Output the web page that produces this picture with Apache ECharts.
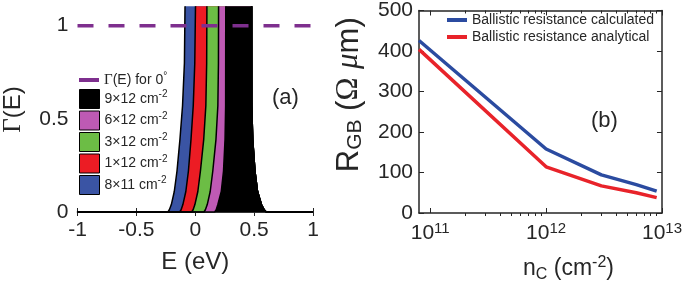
<!DOCTYPE html>
<html>
<head>
<meta charset="utf-8">
<script src="https://cdn.jsdelivr.net/npm/echarts@6/dist/echarts.min.js"></script>
<style>
  html, body { margin: 0; padding: 0; background: #fff; }
  #chart { width: 685px; height: 290px; }
</style>
</head>
<body>
<div id="chart"></div>
<script>
// (a) Γ(E) bands, points as [E (eV), Γ]
const band8x11 = [[-1, 0], [-0.232, 0], [-0.22, 0.012], [-0.203, 0.04], [-0.178, 0.11], [-0.155, 0.22], [-0.13, 0.39], [-0.108, 0.57], [-0.092, 0.8], [-0.087, 1.1], [-0.085, 1.3]]
const band1x12 = [[-1, 0], [-0.132, 0], [-0.12, 0.012], [-0.105, 0.04], [-0.08, 0.11], [-0.058, 0.22], [-0.036, 0.39], [-0.017, 0.57], [-0.004, 0.8], [0.002, 1.1], [0.004, 1.3]]
const band3x12 = [[-1, 0], [-0.03, 0], [-0.018, 0.012], [-0.003, 0.04], [0.022, 0.11], [0.044, 0.22], [0.072, 0.39], [0.09, 0.57], [0.097, 0.8], [0.099, 1.1], [0.1, 1.3]]
const band6x12 = [[-1, 0], [0.074, 0], [0.086, 0.012], [0.102, 0.04], [0.127, 0.11], [0.149, 0.22], [0.176, 0.39], [0.192, 0.57], [0.197, 0.8], [0.198, 1.1], [0.199, 1.3]]
const band9x12 = [[-1, 0], [0.165, 0], [0.178, 0.012], [0.192, 0.04], [0.221, 0.11], [0.24, 0.22], [0.253, 0.39], [0.258, 0.57], [0.259, 1.1], [0.26, 1.3]]
// shared falling side, hidden under the black band
const bandRight = [[0.478, 1.3], [0.479, 1.1], [0.48, 0.57], [0.488, 0.39], [0.507, 0.22], [0.529, 0.11], [0.562, 0.04], [0.585, 0.012], [0.603, 0], [1, 0]]
const gamma0 = [[-1, 1], [1, 1]]

const bandNames = ['8×11', '1×12', '3×12', '6×12', '9×12']
const bandColors = ['#3A54A4', '#EC1C24', '#6CBD45', '#BE5AB4', '#000000']
const bandData = [band8x11, band1x12, band3x12, band6x12, band9x12]

// (b) R_GB vs n_C
const nC = [8e10, 1e12, 3e12, 6e12, 9e12]
const rCalc = [426, 158, 94, 70, 54]
const rAnal = [404, 114, 67, 50, 38]

const eTicks = [-1, -0.5, 0, 0.5, 1]
const gTicks = [0, 0.25, 0.5, 0.75, 1]
const gLabels = [0, 0.5, 1]
const logMajor = [1e11, 1e12, 1e13]
const logMinor = [2e11, 3e11, 4e11, 5e11, 6e11, 7e11, 8e11, 9e11, 2e12, 3e12, 4e12, 5e12, 6e12, 7e12, 8e12, 9e12]

const FONT = 'Liberation Sans, Arial, Helvetica, sans-serif'
const SERIF = 'Liberation Serif, Times New Roman, serif'
const INK = '#262626'

const chart = echarts.init(document.getElementById('chart'), null, { renderer: 'canvas' })

const frameLine = { show: true, lineStyle: { color: INK, width: 1.5 } }
const tickIn = (len, vals) => ({ show: true, inside: true, length: len, lineStyle: { color: INK, width: 1 }, customValues: vals })

const bandSeries = bandData.map((d, i) => ({
  name: bandNames[i],
  type: 'line',
  xAxisIndex: 0,
  yAxisIndex: 0,
  data: d.concat(bandRight),
  symbol: 'none',
  lineStyle: { color: '#000', width: 1.5 },
  itemStyle: { color: bandColors[i] },
  areaStyle: { color: bandColors[i], opacity: 1 },
  animation: false,
  z: 2 + i
}))

chart.setOption({
  animation: false,
  textStyle: { fontFamily: FONT },
  title: [
    { text: '(a)', left: 272, top: 87, padding: 0, textStyle: { fontSize: 22, fontWeight: 'normal', color: INK, fontFamily: FONT } },
    { text: '(b)', left: 591, top: 110, padding: 0, textStyle: { fontSize: 22, fontWeight: 'normal', color: INK, fontFamily: FONT } }
  ],
  grid: [
    { left: 71, top: 7, width: 242, height: 205 },
    { left: 419, top: 8, width: 244, height: 205 }
  ],
  legend: [
    {
      data: [{ name: 'gamma0', icon: 'rect', itemStyle: { color: '#7E2F8E' } }],
      left: 79, top: 71, itemWidth: 20, itemHeight: 4, padding: 0,
      formatter: () => '{g|Γ}{t|(E) for 0}{s|°}',
      textStyle: {
        rich: {
          g: { fontFamily: SERIF, fontSize: 15, color: INK, lineHeight: 18 },
          t: { fontFamily: FONT, fontSize: 14, color: INK, lineHeight: 18 },
          s: { fontFamily: FONT, fontSize: 10, color: INK, lineHeight: 8, verticalAlign: 'top' }
        }
      }
    },
    {
      data: bandNames.slice().reverse().map((n, k) => ({
        name: n, icon: 'rect',
        itemStyle: { color: bandColors[4 - k], borderColor: '#000', borderWidth: 1 }
      })),
      orient: 'vertical', left: 79, top: 89, itemWidth: 20, itemHeight: 19, itemGap: 1.5, padding: 0,
      formatter: n => '{t|' + n + ' cm}{s|-2}',
      textStyle: {
        rich: {
          t: { fontFamily: FONT, fontSize: 14, color: INK, lineHeight: 19 },
          s: { fontFamily: FONT, fontSize: 10, color: INK, lineHeight: 9, verticalAlign: 'top' }
        }
      }
    },
    {
      data: ['Ballistic resistance calculated', 'Ballistic resistance analytical'],
      orient: 'vertical', left: 447, top: 12, itemWidth: 20, itemHeight: 4, itemGap: 1, padding: 0,
      icon: 'rect',
      textStyle: { fontFamily: FONT, fontSize: 14, color: INK, lineHeight: 16 }
    }
  ],
  xAxis: [
    {
      type: 'value', gridIndex: 0, min: -1, max: 1,
      axisLine: frameLine, axisTick: tickIn(4, eTicks), splitLine: { show: false },
      axisLabel: { color: INK, fontSize: 21, margin: 8, customValues: eTicks },
      name: 'E (eV)', nameLocation: 'middle', nameGap: 38,
      nameTextStyle: { color: INK, fontSize: 24, fontFamily: FONT }
    },
    {
      type: 'value', gridIndex: 0, min: -1, max: 1, position: 'top',
      axisLine: frameLine, axisTick: tickIn(4, eTicks), axisLabel: { show: false }, splitLine: { show: false }
    },
    {
      type: 'log', gridIndex: 1, min: 8e10, max: 1e13,
      axisLine: frameLine, axisTick: tickIn(5, logMajor), splitLine: { show: false }, minorTick: { show: false },
      axisLabel: {
        customValues: logMajor, margin: 8,
        formatter: v => '{b|10}{s|' + Math.round(Math.log10(v)) + '}',
        rich: {
          b: { fontSize: 21, color: INK, fontFamily: FONT, lineHeight: 24 },
          s: { fontSize: 15, color: INK, fontFamily: FONT, lineHeight: 12, verticalAlign: 'top' }
        }
      },
      name: '{t|n}{sub|C}{t| (cm}{sup|-2}{t|)}', nameLocation: 'middle', nameGap: 42,
      nameTextStyle: {
        padding: [0, 0, 0, 56],
        rich: {
          t: { fontSize: 23, color: INK, fontFamily: FONT, lineHeight: 28 },
          sub: { fontSize: 16, color: INK, fontFamily: FONT, lineHeight: 14, verticalAlign: 'bottom' },
          sup: { fontSize: 16, color: INK, fontFamily: FONT, lineHeight: 12, verticalAlign: 'top' }
        }
      }
    },
    {
      type: 'log', gridIndex: 1, min: 8e10, max: 1e13,
      axisLine: { show: false }, axisTick: tickIn(3, logMinor), axisLabel: { show: false }, splitLine: { show: false }
    },
    {
      type: 'log', gridIndex: 1, min: 8e10, max: 1e13, position: 'top',
      axisLine: frameLine, axisTick: tickIn(5, logMajor), axisLabel: { show: false }, splitLine: { show: false }
    },
    {
      type: 'log', gridIndex: 1, min: 8e10, max: 1e13, position: 'top',
      axisLine: { show: false }, axisTick: tickIn(3, logMinor), axisLabel: { show: false }, splitLine: { show: false }
    }
  ],
  yAxis: [
    {
      type: 'value', gridIndex: 0, min: 0, max: 1.1,
      axisLine: frameLine, axisTick: tickIn(4, gTicks), splitLine: { show: false },
      axisLabel: { color: INK, fontSize: 21, margin: 9, customValues: gLabels },
      name: '{g|Γ}{t|(E)}', nameLocation: 'middle', nameGap: 50,
      nameTextStyle: {
        rich: {
          g: { fontSize: 25, color: INK, fontFamily: SERIF, lineHeight: 28 },
          t: { fontSize: 24, color: INK, fontFamily: FONT, lineHeight: 28 }
        }
      }
    },
    {
      type: 'value', gridIndex: 0, min: 0, max: 1.1, position: 'right',
      axisLine: frameLine, axisTick: tickIn(4, gTicks), axisLabel: { show: false }, splitLine: { show: false }
    },
    {
      type: 'value', gridIndex: 1, min: 0, max: 500, interval: 100,
      axisLine: frameLine, axisTick: { show: true, inside: true, length: 5, lineStyle: { color: INK } }, splitLine: { show: false },
      axisLabel: { color: INK, fontSize: 21, margin: 6 },
      name: '{t|R}{sub|GB}{t| (}{g|Ω}{t| }{mu|μ}{t|m)}', nameLocation: 'middle', nameGap: 53,
      nameTextStyle: {
        padding: [0, 0, 0, 34],
        rich: {
          t: { fontSize: 31, color: INK, fontFamily: FONT, lineHeight: 34 },
          sub: { fontSize: 21, color: INK, fontFamily: FONT, lineHeight: 16, verticalAlign: 'bottom' },
          g: { fontSize: 31, color: INK, fontFamily: SERIF, lineHeight: 34 },
          mu: { fontSize: 31, color: INK, fontFamily: SERIF, fontStyle: 'italic', lineHeight: 34 }
        }
      }
    },
    {
      type: 'value', gridIndex: 1, min: 0, max: 500, interval: 100, position: 'right',
      axisLine: frameLine, axisTick: { show: true, inside: true, length: 5, lineStyle: { color: INK } },
      axisLabel: { show: false }, splitLine: { show: false }
    }
  ],
  series: bandSeries.concat([
    {
      name: 'gamma0', type: 'line', xAxisIndex: 0, yAxisIndex: 0, data: gamma0, symbol: 'none', z: 10,
      itemStyle: { color: '#7E2F8E' },
      lineStyle: { color: '#7E2F8E', width: 3.5, type: [16, 15] }
    },
    {
      name: 'Ballistic resistance calculated', type: 'line', xAxisIndex: 2, yAxisIndex: 2,
      data: nC.map((n, i) => [n, rCalc[i]]), symbol: 'none', color: '#2B4BA0',
      lineStyle: { width: 3.5 }
    },
    {
      name: 'Ballistic resistance analytical', type: 'line', xAxisIndex: 2, yAxisIndex: 2,
      data: nC.map((n, i) => [n, rAnal[i]]), symbol: 'none', color: '#E8232A',
      lineStyle: { width: 3.5 }
    }
  ])
})
</script>
</body>
</html>
